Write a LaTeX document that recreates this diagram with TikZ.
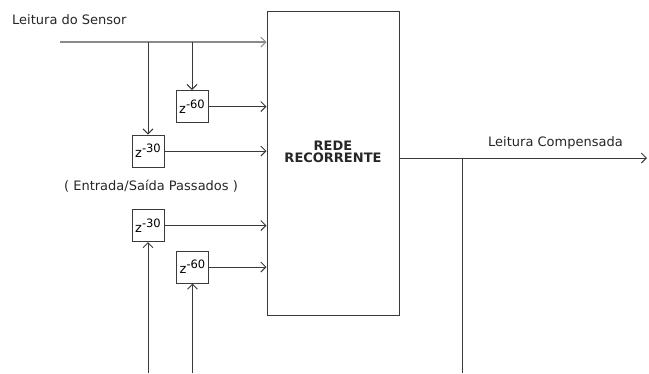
\documentclass[tikz,border=0pt]{standalone}
\usepackage{fontspec}
\setmainfont{DejaVu Sans}
\usetikzlibrary{arrows.meta}
\definecolor{linha}{HTML}{3A3A3A}
\definecolor{entrada}{HTML}{8A8A8A}

\begin{document}
\begin{tikzpicture}[x=1pt, y=-1pt,
    font=\fontsize{13}{15}\selectfont,
    seta/.style={draw=linha, line width=1pt, -{Straight Barb[length=5pt, width=10pt, line width=1pt]}},
    linhasimples/.style={draw=linha, line width=1pt},
    atraso/.style={draw=linha, line width=1pt, rectangle, minimum width=32pt, minimum height=32pt, inner sep=0pt},
    texto/.style={inner sep=0pt, text=black!85}]
    \useasboundingbox (0,0) rectangle (649,373);

    % Rede recorrente
    \node[draw=linha, line width=1pt, minimum width=132pt, minimum height=304pt] (rede) at (333,163) {};
    \node[texto, font=\fontsize{13}{15}\selectfont\bfseries, align=center] (rotulo) at (333,152) {REDE\\[-3pt]RECORRENTE};

    % Atrasos
    \node[atraso] (z60a) at (192,106.5) {\fontsize{13}{14}\selectfont z\raisebox{5pt}{\fontsize{11.5}{12}\selectfont -60}};
    \node[atraso] (z30a) at (148,151) {\fontsize{13}{14}\selectfont z\raisebox{5pt}{\fontsize{11.5}{12}\selectfont -30}};
    \node[atraso] (z30b) at (148,225.5) {\fontsize{13}{14}\selectfont z\raisebox{5pt}{\fontsize{11.5}{12}\selectfont -30}};
    \node[atraso] (z60b) at (192.5,267) {\fontsize{13}{14}\selectfont z\raisebox{5pt}{\fontsize{11.5}{12}\selectfont -60}};

    % Textos
    \node[texto, anchor=west] (sensor) at (12,20) {Leitura do Sensor};
    \node[texto] (passados) at (151,186) {( Entrada/Saída Passados )};
    \node[texto, anchor=west] (compensada) at (488,143) {Leitura Compensada};

    % Entrada do sensor
    \coordinate (in) at (60,42);
    \draw[seta, draw=entrada, line width=2pt] (in) -- (in -| rede.west);
    \draw[seta] (z30a.north |- in) -- (z30a.north);
    \draw[seta] (z60a.north |- in) -- (z60a.north);

    % Saidas dos atrasos
    \draw[seta] (z60a.east) -- (z60a.east -| rede.west);
    \draw[seta] (z30a.east) -- (z30a.east -| rede.west);
    \draw[seta] (z30b.east) -- (z30b.east -| rede.west);
    \draw[seta] (z60b.east) -- (z60b.east -| rede.west);

    % Realimentacao
    \coordinate (fundo) at (0,373);
    \draw[seta] (z30b.south |- fundo) -- (z30b.south);
    \draw[seta] (z60b.south |- fundo) -- (z60b.south);

    % Saida
    \coordinate (saida) at (647,158);
    \coordinate (ramo) at (462,158);
    \draw[seta] (rede.east |- saida) -- (saida);
    \draw[linhasimples] (ramo) -- (ramo |- fundo);
\end{tikzpicture}
\end{document}
